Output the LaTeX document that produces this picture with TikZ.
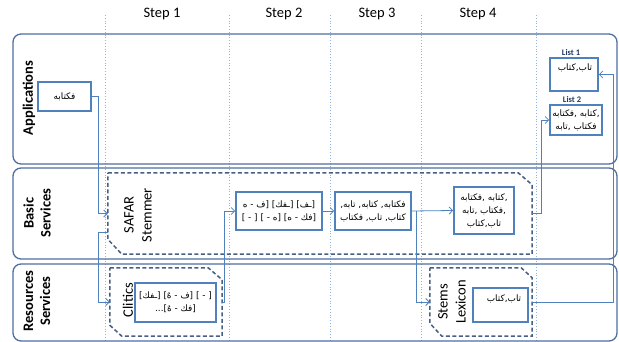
\documentclass[tikz,border=0pt]{standalone}
\usepackage{fontspec}
\setmainfont{Carlito}
\newfontfamily\arabicfont[Script=Arabic]{DejaVu Sans}
\TeXXeTstate=1
\usetikzlibrary{arrows.meta,calc}
\definecolor{lanecol}{RGB}{79,110,160}
\definecolor{boxcol}{RGB}{79,129,189}
\definecolor{dashcol}{RGB}{72,94,130}
\definecolor{gridcol}{RGB}{141,179,226}
\definecolor{listcol}{RGB}{31,56,100}
\begin{document}
\begin{tikzpicture}[x=1pt,y=-1pt,
  lane/.style={draw=lanecol,line width=1.3pt,rounded corners=8pt},
  grid/.style={draw=gridcol,line width=0.8pt,dotted},
  solidbox/.style={draw=boxcol,line width=1.6pt,fill=white,inner xsep=1pt,inner ysep=0pt,align=center,font=\arabicfont\fontsize{8.9}{13}\selectfont},
  topbox/.style={draw=boxcol,line width=1.6pt,fill=white,inner sep=0pt,font=\arabicfont\fontsize{8.9}{13}\selectfont},
  container/.style={inner sep=0pt,draw=none},
  dashbox/.style={draw=dashcol,line width=1.5pt,dash pattern=on 4pt off 2.5pt,line join=miter},
  conn/.style={draw=boxcol,line width=0.8pt,-{Straight Barb[length=3.5pt,width=7pt]}},
  steplbl/.style={font=\fontsize{14.5}{17}\selectfont},
  lanelbl/.style={font=\bfseries\fontsize{14.5}{17}\selectfont,rotate=90,align=center},
  contlbl/.style={font=\fontsize{14.5}{18}\selectfont,rotate=90,align=center},
  listlbl/.style={font=\bfseries\fontsize{8.5}{10}\selectfont,text=listcol}
]
\useasboundingbox (0,0) rectangle (619,342);
% dotted step separators
\foreach \x in {105,229,330,421,536} \draw[grid] (\x,15) -- (\x,342);
% step labels
\node[steplbl] (st1) at (162,14) {Step 1};
\node[steplbl] (st2) at (284,14) {Step 2};
\node[steplbl] (st3) at (377,14) {Step 3};
\node[steplbl] (st4) at (478,14) {Step 4};
% lanes
\draw[lane] (13,34) rectangle (617,164);
\draw[lane] (13,168) rectangle (617,259);
\draw[lane] (13,264) rectangle (617,341);
\node[lanelbl] (lapp) at (29,98) {Applications};
\node[lanelbl] (lbas) at (37,213) {Basic\\Services};
\node[lanelbl] (lres) at (37,301) {Resources\\Services};
% dashed containers
\node[container,minimum width=424,minimum height=81] (safar) at (320,213.5) {};
\draw[dashbox] (safar.north west) -- ($(safar.north east)+(-14,0)$) -- ($(safar.north east)+(0,12)$) -- (safar.south east) -- ($(safar.south west)+(14,0)$) -- ($(safar.south west)+(0,-15)$) -- cycle;
\node[container,minimum width=112,minimum height=68] (clitics) at (166,302) {};
\draw[dashbox] (clitics.north west) -- ($(clitics.north east)+(-14,0)$) -- ($(clitics.north east)+(0,12)$) -- (clitics.south east) -- ($(clitics.south west)+(12,0)$) -- ($(clitics.south west)+(0,-11)$) -- cycle;
\node[container,minimum width=102,minimum height=68] (stems) at (481,302) {};
\draw[dashbox] (stems.north west) -- ($(stems.north east)+(-11,0)$) -- ($(stems.north east)+(0,10)$) -- (stems.south east) -- ($(stems.south west)+(12,0)$) -- ($(stems.south west)+(0,-13)$) -- cycle;
\node[contlbl] (lsafar) at (138,215) {SAFAR\\Stemmer};
\node[contlbl] (lclit) at (128,300) {Clitics};
\node[contlbl] (lstems) at (452,302) {Stems\\Lexicon};
% solid boxes
\node[solidbox,minimum width=53,minimum height=29] (input) at (64.5,96.5) {\beginR فكتابه\endR};
\node[topbox,text height=13pt,text depth=20pt] (list1) at (574,74.5) {\makebox[48pt]{\hspace{2pt}\hbox{\beginR تاب,كتاب\endR}}};
\node[listlbl] (l1lbl) at (571,53) {List 1};
\node[solidbox,minimum width=52,minimum height=30] (list2) at (576,120) {\beginR ,كتابه ,فكتابه\endR\\\beginR فكتاب ,تابه\endR};
\node[listlbl] (l2lbl) at (572,100) {List 2};
\node[solidbox,minimum width=86,minimum height=38] (step2) at (279,211) {\beginR [ـف] [ـفك] [ف - ه\endR\\\beginR [فك - ه] [ه - ] [ - ]\endR};
\node[solidbox,minimum width=76,minimum height=38] (step3) at (373,211) {\beginR فكتابه, كتابه, تابه,\endR\\\beginR كتاب, تاب, فكتاب\endR};
\node[solidbox,minimum width=60,minimum height=47] (step4) at (484,210.5) {\beginR ,كتابه ,فكتابه\endR\\\beginR ,فكتاب ,تابه\endR\\\beginR تاب,كتاب\endR};
\node[solidbox,minimum width=81,minimum height=39] (clitbox) at (175.5,302.5) {\beginR [ - ] [ف - هٌ] [ـفك]\endR\\\beginR [فك - هٌ]...\endR};
\node[topbox,text height=13pt,text depth=21pt] (lexbox) at (500.5,305) {\makebox[55pt]{\hspace{7pt}\hbox{\beginR تاب,كتاب\endR}}};
% connectors
\coordinate (s1) at (108,232);
\coordinate (br) at ($(step3.east)+(5,0)$);
\draw[conn] (input.east) -| ($(safar.west)+(-9,0)$) -- (safar.west);
\draw[conn] (s1) -- ++(-10,0) |- (clitics.west);
\draw[conn] (clitics.east) -- ++(2,0) |- (step2.west);
\draw[conn] (step2.east) -- (step3.west);
\draw[conn] (step3.east) -- (step4.west);
\draw[conn] (br) |- (stems.west);
\draw[conn] (stems.east) -- ++(81,0) |- (list1.east);
\draw[conn] (safar.east) -- ++(9,0) |- (list2.west);
\end{tikzpicture}
\end{document}
